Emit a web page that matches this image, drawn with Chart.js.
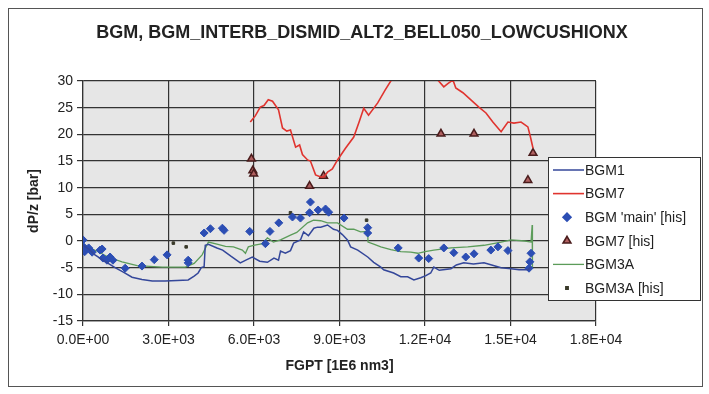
<!DOCTYPE html>
<html>
<head>
<meta charset="utf-8">
<script src="https://cdn.jsdelivr.net/npm/chart.js@4"></script>
<style>
  body { margin: 0; background: #fff; }
</style>
</head>
<body>
<canvas id="graficoBgm" width="709" height="394"></canvas>
<script>
// dados (FGPT em 1E6 nm3, dP/z em bar)

const bgm1X = [0, 200, 420, 700, 1125, 1400, 1720, 2070, 2430, 2880, 3300, 3690, 3900, 4040, 4150, 4250, 4290, 4400, 4700, 4900,
  5200, 5520, 5750, 5940, 6200, 6470, 6700, 6860, 6930, 7100, 7280, 7390, 7630, 7740, 7910, 8100, 8230, 8340, 8580, 8790,
  8930, 9100, 9280, 9390, 9640, 9990, 10200, 10450, 10550, 10900, 11150, 11390, 11610, 11850, 12030, 12200, 12310, 12500, 12910, 13100,
  13360, 13700, 14070, 14400, 14670, 15020, 15300, 15610, 15720];
const bgm1Y = [-0.8, -1.5, -2.6, -3.6, -5.0, -5.8, -6.8, -7.2, -7.5, -7.5, -7.4, -7.3, -6.6, -6.0, -5.0, -4.8, -0.8, -0.6, -1.3, -1.7,
  -2.9, -4.1, -3.5, -3.0, -3.8, -4.0, -3.2, -3.6, -1.9, -2.3, -1.8, -0.4, 0.2, 1.7, 1.0, 2.4, 2.6, 2.6, 3.0, 2.2,
  2.0, 1.2, 0.2, -1.1, -1.7, -3.0, -4.0, -4.9, -5.4, -6.0, -6.7, -6.7, -7.3, -6.9, -6.5, -6.0, -4.9, -5.5, -5.2, -4.5,
  -4.1, -4.3, -4.1, -4.6, -5.0, -5.2, -5.4, -5.4, -4.9];

const bgm7X = [5870, 6050, 6220, 6350, 6500, 6650, 6860, 7000, 7150, 7280, 7460, 7600, 7700, 7880, 7980, 8160, 8340, 8450, 8580, 8750,
  8930, 9210, 9500, 9700, 9850, 10020, 10340, 10600, 10870, 11000, 11500, 12300, 12380, 12660, 12800, 12980, 13080, 13330, 13600, 13890,
  14140, 14380, 14670, 14910, 15120, 15370, 15610, 15700, 15790];
const bgm7Y = [22.3, 23.5, 25.1, 25.4, 26.5, 26.2, 24.6, 21.2, 20.6, 20.8, 17.6, 18.0, 16.2, 15.2, 15.0, 12.4, 12.0, 12.0, 12.9, 13.5,
  15.2, 17.4, 19.5, 22.5, 24.9, 23.6, 25.9, 28.3, 30.6, 32.0, null, 31.5, 30.6, 28.9, 29.5, 30.2, 28.7, 27.8, 26.5, 25.1,
  24.0, 22.3, 20.5, 22.3, 22.1, 22.3, 21.4, 19.5, 17.4];

const bgm3aX = [0, 300, 600, 880, 1370, 1900, 2780, 3590, 3900, 4180, 4400, 4700, 5000, 5280, 5590, 5700, 5800, 5980, 6300, 6470,
  6680, 6930, 7280, 7500, 7880, 8090, 8340, 8580, 8930, 9280, 9500, 9740, 9990, 10000, 10200, 10450, 10800, 11150, 11500, 11750,
  12000, 12310, 12910, 13500, 14070, 14670, 15020, 15500, 15720, 15760, 15770];
const bgm3aY = [-0.6, -1.4, -2.2, -3.0, -3.9, -4.6, -4.9, -4.9, -4.2, -2.6, -0.2, -0.6, -1.0, -1.1, -1.7, -2.3, -1.1, -0.8, -0.5, 0.6,
  -0.2, 0.2, 1.1, 1.6, 3.4, 3.9, 3.8, 3.4, 3.4, 2.2, 2.2, 1.7, 1.8, -0.2, -0.6, -1.1, -1.6, -2.0, -2.1, -2.3,
  -2.0, -1.7, -1.3, -1.1, -0.8, -0.2, 0.2, 0.0, -0.2, 3.0, -5.0];

const mainHisX = [0, 20, 60, 200, 320, 600, 670, 700, 840, 950, 1050, 1480, 2070, 2500, 2950, 3690, 3690, 4250, 4470, 4890,
  4950, 5850, 6400, 6560, 6870, 7350, 7630, 7950, 7980, 8250, 8510, 8620, 9160, 9990, 9990, 11060, 11780, 12130, 12660, 13010,
  13430, 13720, 14310, 14560, 14910, 15720, 15680, 15650];
const mainHisY = [0.2, -1.1, -2.0, -1.3, -2.1, -1.7, -1.5, -3.2, -3.6, -3.0, -3.6, -5.1, -4.7, -3.5, -2.6, -3.6, -4.1, 1.5, 2.3, 2.4,
  2.0, 1.8, -0.5, 1.8, 3.4, 4.5, 4.3, 5.3, 7.3, 5.8, 6.0, 5.4, 4.3, 2.5, 1.5, -1.3, -3.2, -3.3, -1.3, -2.2,
  -3.0, -2.4, -1.7, -1.1, -1.8, -2.3, -3.9, -5.1];

const bgm7HisX = [5910, 5960, 5990, 7950, 8440, 12560, 13720, 15610, 15790];
const bgm7HisY = [15.4, 13.2, 12.6, 10.3, 12.2, 20.1, 20.1, 11.4, 16.5];

const bgm3aHisX = [0, 3170, 3620, 7280, 9950];
const bgm3aHisY = [0.4, -0.4, -1.1, 5.3, 3.9];

const xTicks = [0, 3000, 6000, 9000, 12000, 15000, 18000];
const yTicks = [-15, -10, -5, 0, 5, 10, 15, 20, 25, 30];

function pares(xs, ys) {
  return xs.map((x, i) => ({ x: x, y: ys[i] }));
}

// formato 0.0E+00
function cientifico(v) {
  if (v === 0) return '0.0E+00';
  const e = Math.floor(Math.log10(Math.abs(v)));
  const m = v / Math.pow(10, e);
  return m.toFixed(1) + 'E' + (e < 0 ? '-' : '+') + String(Math.abs(e)).padStart(2, '0');
}

const fonte = 'Liberation Sans, Arial, sans-serif';

// fundo cinza da área do gráfico e moldura externa
const fundo = {
  id: 'fundo',
  beforeDraw(chart) {
    const ctx = chart.ctx;
    const a = chart.chartArea;
    ctx.save();
    ctx.fillStyle = '#fff';
    ctx.fillRect(0, 0, chart.width, chart.height);
    ctx.strokeStyle = '#555';
    ctx.lineWidth = 1;
    ctx.strokeRect(8.5, 8.5, 694, 378);
    ctx.fillStyle = '#e6e6e6';
    ctx.fillRect(a.left, a.top, a.right - a.left, a.bottom - a.top);
    ctx.restore();
  }
};

// legenda desenhada por cima do gráfico
const legenda = {
  id: 'legenda',
  afterDraw(chart) {
    const ctx = chart.ctx;
    const bx = 548, by = 157, bw = 152, bh = 143;
    ctx.save();
    ctx.fillStyle = '#fff';
    ctx.fillRect(bx, by, bw, bh);
    ctx.strokeStyle = '#333';
    ctx.lineWidth = 1;
    ctx.strokeRect(bx + 0.5, by + 0.5, bw, bh);
    chart.data.datasets.forEach((ds, i) => {
      const y = 170 + i * 23.6;
      if (ds.showLine) {
        ctx.strokeStyle = ds.borderColor;
        ctx.lineWidth = ds.borderWidth;
        ctx.beginPath();
        ctx.moveTo(553, y);
        ctx.lineTo(584, y);
        ctx.stroke();
      } else {
        ctx.fillStyle = ds.backgroundColor;
        ctx.strokeStyle = ds.borderColor;
        Chart.helpers.drawPoint(ctx, {
          pointStyle: ds.pointStyle,
          radius: ds.pointRadius,
          borderWidth: ds.borderWidth,
          rotation: 0
        }, 567, y);
      }
      ctx.fillStyle = '#222';
      ctx.font = '14px ' + fonte;
      ctx.textBaseline = 'middle';
      ctx.textAlign = 'left';
      ctx.fillText(ds.label, 585, y + 1);
    });
    ctx.restore();
  }
};

const dataBgm = {
  datasets: [{
    label: 'BGM1',
    data: pares(bgm1X, bgm1Y),
    showLine: true,
    borderColor: '#34479a',
    backgroundColor: '#34479a',
    borderWidth: 1.5,
    pointRadius: 0
  }, {
    label: 'BGM7',
    data: pares(bgm7X, bgm7Y),
    showLine: true,
    borderColor: '#e0342f',
    backgroundColor: '#e0342f',
    borderWidth: 1.6,
    pointRadius: 0
  }, {
    label: "BGM 'main' [his]",
    data: pares(mainHisX, mainHisY),
    showLine: false,
    pointStyle: 'rectRot',
    pointRadius: 4,
    borderWidth: 1,
    backgroundColor: '#2c4eb4',
    borderColor: '#2c4eb4'
  }, {
    label: 'BGM7 [his]',
    data: pares(bgm7HisX, bgm7HisY),
    showLine: false,
    pointStyle: 'triangle',
    pointRadius: 4.5,
    borderWidth: 1.5,
    backgroundColor: '#b06060',
    borderColor: '#4a1c1c'
  }, {
    label: 'BGM3A',
    data: pares(bgm3aX, bgm3aY),
    showLine: true,
    borderColor: '#5c9c5a',
    backgroundColor: '#5c9c5a',
    borderWidth: 1.3,
    pointRadius: 0
  }, {
    label: 'BGM3A [his]',
    data: pares(bgm3aHisX, bgm3aHisY),
    showLine: false,
    pointStyle: 'rect',
    pointRadius: 1.8,
    borderWidth: 1,
    backgroundColor: '#3a3a2a',
    borderColor: '#3a3a2a'
  }]
};

const configBgm = {
  type: 'scatter',
  data: dataBgm,
  plugins: [fundo, legenda],
  options: {
    responsive: false,
    animation: false,
    spanGaps: false,
    layout: { padding: { left: 15, right: 0, top: 0, bottom: 0 } },
    plugins: {
      legend: { display: false },
      tooltip: { enabled: false },
      title: {
        display: true,
        text: 'BGM, BGM_INTERB_DISMID_ALT2_BELL050_LOWCUSHIONX',
        color: '#222',
        font: { family: fonte, size: 18, weight: 'bold' },
        padding: { top: 22, bottom: 37.4 }
      }
    },
    scales: {
      x: {
        type: 'linear',
        min: 0,
        max: 18000,
        afterFit(scale) { scale.height = 73; },
        afterBuildTicks(scale) { scale.ticks = xTicks.map(v => ({ value: v })); },
        ticks: {
          callback: v => cientifico(v),
          color: '#222',
          font: { family: fonte, size: 14 },
          padding: 6,
          maxRotation: 0
        },
        grid: { color: '#333', lineWidth: 1.2, tickLength: 5 },
        border: { color: '#333', width: 1.2 },
        title: {
          display: true,
          text: 'FGPT [1E6 nm3]',
          color: '#222',
          font: { family: fonte, size: 14, weight: 'bold' },
          padding: { top: 0, bottom: 19 }
        }
      },
      y: {
        min: -15,
        max: 30,
        afterFit(scale) { scale.width = 68; },
        afterBuildTicks(scale) { scale.ticks = yTicks.map(v => ({ value: v })); },
        ticks: {
          color: '#222',
          font: { family: fonte, size: 14 },
          padding: 4
        },
        grid: { color: '#333', lineWidth: 1.2, tickLength: 6 },
        border: { color: '#333', width: 1.2 },
        title: {
          display: true,
          text: 'dP/z [bar]',
          color: '#222',
          font: { family: fonte, size: 14, weight: 'bold' },
          padding: { top: 11, bottom: 0 }
        }
      },
      // eixo vazio à direita só para reservar o espaço da legenda
      yVazio: {
        position: 'right',
        min: -15,
        max: 30,
        afterFit(scale) { scale.width = 113; },
        ticks: { display: false },
        grid: { display: false },
        border: { display: false }
      }
    }
  }
};

const graficoBgm = new Chart(
  document.getElementById('graficoBgm'),
  configBgm
);
</script>
</body>
</html>
